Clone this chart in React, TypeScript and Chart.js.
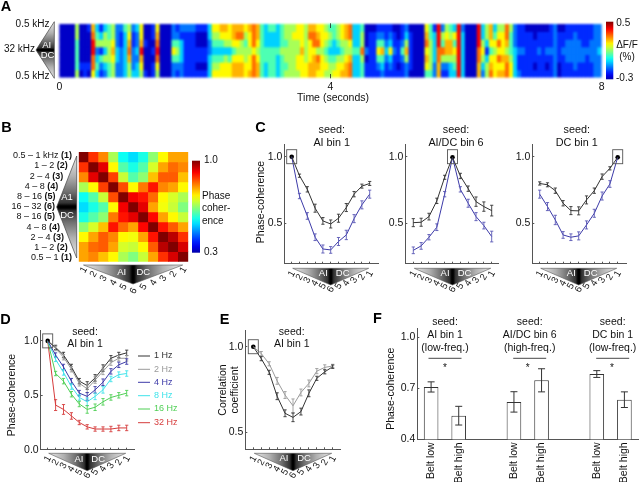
import React, { useEffect, useRef } from "react";
import { Chart, registerables } from "chart.js";

Chart.register(...registerables);

const FONT = '"Liberation Sans", Arial, sans-serif';
Chart.defaults.font.family = FONT;
Chart.defaults.color = "#111";

// ---------- data ----------
const binLabels = ["1", "2", "3", "4", "5", "6", "5", "4", "3", "2", "1"];

// Panel A: one string per time column, 7 rows top to bottom, levels 0..9
const activityColumns = [
  "0000000","0000000","0000000","0000000","5544445","0000010","0000011","1000010","7899886",
  "3452343","1351421","3553532","4455544","5567655","2223322","2112222","4333333","5678755",
  "2112223","3223233","6679765","0010001","0000000","1101011","6789865","0000000","0000000",
  "0000000","2246422","1245421","2133322","2111111","2111111","2111111","1001101","1001101",
  "1001101","3322333","6543456","6543456","7643466","7653566","6653466","7764677","7865677",
  "7855677","6545566","7665667","8886888","7765677","4444444","3334433","4334444","4334444",
  "3334333","4445444","5545545","5555555","5655555","6655665","6667666","5555566","7866677",
  "7886777","6785876",
  "6665666","5654565","4543455","4433456","5543566","6654567","7755677","8865788","3334333",
  "3334333","4558544","0002011","0111111","0111111","1246421","1247432","1123211","1236321",
  "0112111","0011101","1124211","2357522","0111110","0000000","0000000","0000000","6786764",
  "4455554","1333322","9998877","2548521","5677521","4577533","3646543","9999999","2333333",
  "0000000","0000000","0000000","9998877","3356532","5531355","7764678","3465666","5686867",
  "5666767","8875788","5444566","2223333","1112112","1112111","0111111","0111111","0011101",
  "0112111","0111111","0112101","1112111","2222222","0111100","0112111","1122211","1122211",
  "1222221","1122211","1112211","1112111","1122211","2222222","2223222",
];
const activityLevels = [0.07, 0.165, 0.24, 0.33, 0.45, 0.54, 0.63, 0.7, 0.77, 0.88];
const timeTicks = [0, 4, 8];

// Panel B
const coherenceMatrix = [
  [1.0, 0.88, 0.82, 0.68, 0.57, 0.54, 0.58, 0.66, 0.74, 0.8, 0.8],
  [0.88, 1.0, 0.93, 0.74, 0.62, 0.58, 0.62, 0.71, 0.8, 0.84, 0.82],
  [0.82, 0.93, 1.0, 0.87, 0.7, 0.62, 0.66, 0.78, 0.85, 0.85, 0.78],
  [0.68, 0.74, 0.87, 1.0, 0.86, 0.74, 0.83, 0.9, 0.82, 0.8, 0.74],
  [0.57, 0.62, 0.7, 0.86, 1.0, 0.92, 0.9, 0.84, 0.74, 0.71, 0.68],
  [0.54, 0.58, 0.62, 0.74, 0.92, 1.0, 0.93, 0.8, 0.73, 0.7, 0.65],
  [0.58, 0.62, 0.66, 0.83, 0.9, 0.93, 1.0, 0.91, 0.8, 0.74, 0.7],
  [0.66, 0.71, 0.78, 0.9, 0.84, 0.8, 0.91, 1.0, 0.9, 0.85, 0.8],
  [0.74, 0.8, 0.85, 0.82, 0.74, 0.73, 0.8, 0.9, 1.0, 0.96, 0.88],
  [0.8, 0.84, 0.85, 0.8, 0.71, 0.7, 0.74, 0.85, 0.96, 1.0, 0.94],
  [0.8, 0.82, 0.78, 0.74, 0.68, 0.65, 0.7, 0.8, 0.88, 0.94, 1.0],
];
const freqBands: [string, string][] = [
  ["0.5 – 1 kHz ", "(1)"], ["1 – 2 ", "(2)"], ["2 – 4 ", "(3)"], ["4 – 8 ", "(4)"],
  ["8 – 16 ", "(5)"], ["16 – 32 ", "(6)"], ["8 – 16 ", "(5)"], ["4 – 8 ", "(4)"],
  ["2 – 4 ", "(3)"], ["1 – 2 ", "(2)"], ["0.5 – 1 ", "(1)"],
];
const freqBandRightEdge = [72, 67.7, 63.3, 58.3, 55.5, 55, 55, 60, 64, 67.7, 72];

// Panel C
const c1Black = [1.0, 0.858, 0.756, 0.615, 0.52, 0.497, 0.54, 0.62, 0.72, 0.78, 0.8];
const c1BlackErr = [0, 0.012, 0.02, 0.03, 0.025, 0.03, 0.03, 0.03, 0.02, 0.015, 0.015];
const c1Blue = [1.0, 0.706, 0.557, 0.398, 0.31, 0.303, 0.366, 0.415, 0.537, 0.64, 0.72];
const c1BlueErr = [0, 0.02, 0.025, 0.025, 0.03, 0.025, 0.03, 0.035, 0.03, 0.03, 0.03];
const c2Black = [0.507, 0.51, 0.552, 0.67, 0.846, 0.995, 0.856, 0.761, 0.664, 0.627, 0.597];
const c2BlackErr = [0.03, 0.03, 0.025, 0.02, 0.015, 0, 0.02, 0.02, 0.035, 0.035, 0.04];
const c2Blue = [0.3, 0.333, 0.398, 0.473, 0.72, 0.995, 0.756, 0.652, 0.552, 0.485, 0.403];
const c2BlueErr = [0.025, 0.025, 0.02, 0.025, 0.02, 0, 0.02, 0.03, 0.03, 0.025, 0.04];
const c3Black = [0.8, 0.79, 0.746, 0.652, 0.597, 0.595, 0.677, 0.746, 0.851, 0.913, 0.995];
const c3BlackErr = [0.012, 0.015, 0.02, 0.02, 0.03, 0.03, 0.03, 0.02, 0.02, 0.012, 0];
const c3Blue = [0.72, 0.627, 0.527, 0.415, 0.398, 0.408, 0.49, 0.577, 0.706, 0.796, 0.995];
const c3BlueErr = [0.03, 0.03, 0.035, 0.025, 0.025, 0.03, 0.03, 0.03, 0.03, 0.025, 0];

// Panel D
const d1Hz = [1.0, 0.94, 0.87, 0.76, 0.63, 0.59, 0.66, 0.75, 0.84, 0.87, 0.89];
const d2Hz = [1.0, 0.93, 0.85, 0.74, 0.61, 0.56, 0.64, 0.72, 0.8, 0.84, 0.84];
const d4Hz = [1.0, 0.87, 0.76, 0.63, 0.52, 0.49, 0.55, 0.62, 0.72, 0.78, 0.81];
const d8Hz = [1.0, 0.83, 0.71, 0.58, 0.48, 0.44, 0.49, 0.55, 0.65, 0.69, 0.7];
const d16Hz = [1.0, 0.7, 0.63, 0.51, 0.42, 0.37, 0.39, 0.44, 0.48, 0.5, 0.52];
const d32Hz = [1.0, 0.41, 0.37, 0.31, 0.25, 0.21, 0.19, 0.19, 0.19, 0.2, 0.2];
const dErrSmall = [0, 0.02, 0.025, 0.025, 0.025, 0.035, 0.03, 0.03, 0.025, 0.025, 0.025];
const dErrLarge = [0, 0.05, 0.045, 0.03, 0.02, 0.02, 0.02, 0.02, 0.025, 0.025, 0.025];
const dLegend = ["1 Hz", "2 Hz", "4 Hz", "8 Hz", "16 Hz", "32 Hz"];

// Panel E
const eBlack = [1.0, 0.93, 0.85, 0.71, 0.61, 0.586, 0.62, 0.727, 0.815, 0.853, 0.883];
const eBlackErr = [0, 0.012, 0.012, 0.02, 0.02, 0.025, 0.02, 0.02, 0.012, 0.012, 0.01];
const eGray = [1.0, 0.96, 0.9, 0.8, 0.717, 0.654, 0.732, 0.785, 0.857, 0.879, 0.887];
const eGrayErr = [0, 0.012, 0.012, 0.02, 0.02, 0.04, 0.02, 0.02, 0.015, 0.015, 0.01];

// Panel F
const beltLabels = ["Belt low", "Belt high", "", "Belt low", "Belt high", "", "Belt low", "Belt high"];
const beltValues = [0.708, 0.539, null, 0.62, 0.747, null, 0.784, 0.633];
const beltErrors = [0.03, 0.055, 0, 0.06, 0.068, 0, 0.02, 0.046];

// ---------- colours ----------
const INK = "#111";
const AXIS = "#555";
const BLACK = "#333";
const BLUE = "#3c3aa8";
const GRAY = "#9a9a9a";
const CYAN = "#3fe3ea";
const GREEN = "#4fcf55";
const RED = "#d63c3c";

function clamp(v: number) {
  return Math.max(0, Math.min(1, v));
}
function jet(t: number) {
  const r = clamp(1.5 - Math.abs(4 * t - 3));
  const g = clamp(1.5 - Math.abs(4 * t - 2));
  const b = clamp(1.5 - Math.abs(4 * t - 1));
  return `rgb(${Math.round(r * 255)},${Math.round(g * 255)},${Math.round(b * 255)})`;
}

// ---------- drawing helpers ----------
type TextOpts = { align?: CanvasTextAlign; size?: number; color?: string; bold?: boolean; rot?: number };
function text(ctx: CanvasRenderingContext2D, s: string, x: number, y: number, o: TextOpts = {}) {
  ctx.save();
  ctx.translate(x, y);
  if (o.rot) ctx.rotate((o.rot * Math.PI) / 180);
  ctx.font = `${o.bold ? "bold " : ""}${o.size ?? 10}px ${FONT}`;
  ctx.fillStyle = o.color ?? INK;
  ctx.textAlign = o.align ?? "center";
  ctx.textBaseline = "middle";
  ctx.fillText(s, 0, 0);
  ctx.restore();
}
function wedgeGradient(g: CanvasGradient) {
  g.addColorStop(0, "#e8e8e8");
  g.addColorStop(0.2, "#b0b0b0");
  g.addColorStop(0.35, "#707070");
  g.addColorStop(0.46, "#333");
  g.addColorStop(0.49, "#000");
  g.addColorStop(0.51, "#000");
  g.addColorStop(0.54, "#333");
  g.addColorStop(0.65, "#707070");
  g.addColorStop(0.8, "#b0b0b0");
  g.addColorStop(1, "#e8e8e8");
}
function triangleDown(ctx: CanvasRenderingContext2D, xL: number, xR: number, yBase: number, yApex: number) {
  ctx.save();
  const g = ctx.createLinearGradient(xL, 0, xR, 0);
  wedgeGradient(g);
  ctx.beginPath();
  ctx.moveTo(xL, yBase);
  ctx.lineTo(xR, yBase);
  ctx.lineTo((xL + xR) / 2, yApex);
  ctx.closePath();
  ctx.fillStyle = g;
  ctx.fill();
  ctx.strokeStyle = "#555";
  ctx.lineWidth = 0.6;
  ctx.stroke();
  ctx.restore();
}
function triangleLeft(ctx: CanvasRenderingContext2D, xApex: number, xBase: number, yT: number, yB: number) {
  ctx.save();
  const g = ctx.createLinearGradient(0, yT, 0, yB);
  wedgeGradient(g);
  ctx.beginPath();
  ctx.moveTo(xBase, yT);
  ctx.lineTo(xBase, yB);
  ctx.lineTo(xApex, (yT + yB) / 2);
  ctx.closePath();
  ctx.fillStyle = g;
  ctx.fill();
  ctx.strokeStyle = "#444";
  ctx.lineWidth = 0.7;
  ctx.stroke();
  ctx.restore();
}
function colourBar(ctx: CanvasRenderingContext2D, x: number, y: number, w: number, h: number) {
  const g = ctx.createLinearGradient(0, y + h, 0, y);
  for (let i = 0; i <= 16; i++) g.addColorStop(i / 16, jet(0.04 + (0.96 * i) / 16));
  ctx.fillStyle = g;
  ctx.fillRect(x, y, w, h);
}

// whiskers for any dataset that carries an `errs` list
const errorBarPlugin = {
  id: "errorBars",
  afterDatasetsDraw(chart: any) {
    const ctx = chart.ctx;
    chart.data.datasets.forEach((ds: any, di: number) => {
      if (!ds.errs) return;
      const meta = chart.getDatasetMeta(di);
      ctx.save();
      ctx.strokeStyle = ds.errColor ?? ds.borderColor;
      ctx.lineWidth = ds.errWidth ?? 0.9;
      const cap = ds.errCap ?? 1.6;
      meta.data.forEach((el: any, i: number) => {
        const err = ds.errs[i];
        if (!err) return;
        const v = meta.controller.getParsed(i).y;
        const y0 = chart.scales.y.getPixelForValue(v - err);
        const y1 = chart.scales.y.getPixelForValue(v + err);
        ctx.beginPath();
        ctx.moveTo(el.x, y0);
        ctx.lineTo(el.x, y1);
        ctx.moveTo(el.x - cap, y0);
        ctx.lineTo(el.x + cap, y0);
        ctx.moveTo(el.x - cap, y1);
        ctx.lineTo(el.x + cap, y1);
        ctx.stroke();
      });
      ctx.restore();
    });
  },
};
Chart.register(errorBarPlugin);

// ---------- axis + frame helpers ----------
const AXIS_W = 20;
function framePadding(L: number, T: number, R: number, B: number, axisH: number, axisW = AXIS_W) {
  return { left: L - axisW, top: T, right: 640 - R, bottom: 482 - B - axisH };
}
function valueAxis(min: number, max: number, ticks: number[]) {
  return {
    type: "linear",
    min,
    max,
    afterFit: (s: any) => (s.width = AXIS_W),
    afterBuildTicks: (s: any) => (s.ticks = ticks.map((value) => ({ value }))),
    border: { color: AXIS, width: 1 },
    grid: { drawOnChartArea: false, drawTicks: true, tickLength: -2, color: AXIS },
    ticks: { padding: 4, font: { size: 10.5 }, color: INK, callback: (v: any) => Number(v).toFixed(1) },
  };
}

type Series = { data: number[]; errs: number[]; color: string; errColor?: string };
type LinePanel = {
  L: number; T: number; R: number; B: number; x0: number; x1: number;
  yMin: number; yMax: number; yTicks: number[]; seed: number; series: Series[];
  seedValue: number; apexY: number; baseY: number; digitStart: number; digitStep: number;
  aiDx: number; dcDx: number; labelY: number; extra: (ctx: CanvasRenderingContext2D, c: any) => void;
};
function lineConfig(p: LinePanel) {
  const step = (p.x1 - p.x0) / 10;
  const xIdx = binLabels.map((_, i) => i);
  return {
    type: "line",
    data: {
      datasets: [
        ...p.series.map((s) => ({
          data: s.data.map((y, i) => ({ x: xIdx[i], y })),
          errs: s.errs,
          errColor: s.errColor ?? s.color,
          borderColor: s.color,
          borderWidth: 1,
          pointRadius: 0,
          tension: 0,
          clip: false,
        })),
        {
          data: [{ x: p.seed, y: p.seedValue }],
          showLine: false,
          pointRadius: 2.3,
          pointBackgroundColor: "#000",
          pointBorderWidth: 0,
        },
      ],
    },
    options: {
      animation: false,
      responsive: false,
      layout: { padding: framePadding(p.L, p.T, p.R, p.B, 3) },
      plugins: { legend: { display: false }, tooltip: { enabled: false } },
      scales: {
        x: {
          type: "linear",
          min: -(p.x0 - p.L) / step,
          max: 10 + (p.R - p.x1) / step,
          afterFit: (s: any) => (s.height = 3),
          afterBuildTicks: (s: any) => (s.ticks = xIdx.map((value) => ({ value }))),
          border: { color: AXIS, width: 1 },
          grid: { drawOnChartArea: false, drawTicks: true, tickLength: -2, color: AXIS },
          ticks: { display: false },
        },
        y: valueAxis(p.yMin, p.yMax, p.yTicks),
      },
    },
    plugins: [
      {
        id: "decor",
        afterDraw(chart: any) {
          const ctx = chart.ctx;
          const sx = chart.scales.x;
          const sy = chart.scales.y;
          // seed frame
          ctx.save();
          ctx.strokeStyle = "#555";
          ctx.lineWidth = 0.9;
          ctx.strokeRect(sx.getPixelForValue(p.seed) - 5, sy.getPixelForValue(1) - 7, 10, 14);
          ctx.restore();
          // wedge and bin labels
          const xa = sx.getPixelForValue(0);
          const xb = sx.getPixelForValue(10);
          const xc = sx.getPixelForValue(5);
          triangleDown(ctx, xa + 1, xb - 1, p.baseY, p.apexY);
          text(ctx, "AI", xc + p.aiDx, p.labelY, { color: "#fff", size: 9.5 });
          text(ctx, "DC", xc + p.dcDx, p.labelY, { color: "#fff", size: 9.5 });
          binLabels.forEach((lab, i) => {
            const k = Math.min(i, 10 - i);
            text(ctx, lab, sx.getPixelForValue(i), p.digitStart + p.digitStep * k, { size: 9.5, rot: -60 });
          });
          p.extra(ctx, chart);
        },
      },
    ],
  };
}

function heatConfig(cells: string[][], L: number, T: number, R: number, B: number, extra?: (ctx: any, c: any) => void) {
  const rows = cells[0].map((_, k) => k);
  return {
    type: "bar",
    data: {
      labels: cells.map((_, i) => String(i)),
      datasets: rows.map((k) => ({
        data: cells.map(() => [k, k + 1]),
        backgroundColor: cells.map((c) => c[k]),
        borderWidth: 0,
        barPercentage: 1,
        categoryPercentage: 1,
        grouped: false,
      })),
    },
    options: {
      animation: false,
      responsive: false,
      layout: { padding: framePadding(L, T, R, B, 0, 0) },
      plugins: { legend: { display: false }, tooltip: { enabled: false } },
      scales: {
        x: { display: false, grid: { display: false }, stacked: false },
        y: { display: false, reverse: true, min: 0, max: rows.length, grid: { display: false } },
      },
    },
    plugins: extra ? [{ id: "heatDecor", afterDraw: (c: any) => extra(c.ctx, c) }] : [],
  };
}

// ---------- panels ----------
function panelAHeat() {
  const cells = activityColumns.map((col) => col.split("").map((d) => jet(activityLevels[Number(d)])));
  return heatConfig(cells, 59.3, 24, 601.7, 77.6);
}
function panelAAxes() {
  return {
    type: "scatter",
    data: { datasets: [] },
    options: {
      animation: false,
      responsive: false,
      layout: { padding: framePadding(59.3, 23.3, 601.7, 78.3, 16, 0) },
      plugins: { legend: { display: false }, tooltip: { enabled: false } },
      scales: {
        x: {
          type: "linear",
          min: 0,
          max: 8,
          afterFit: (s: any) => (s.height = 16),
          afterBuildTicks: (s: any) => (s.ticks = timeTicks.map((value) => ({ value }))),
          border: { display: false },
          grid: { display: false, drawTicks: false },
          ticks: { padding: 3, font: { size: 10.5 }, color: INK, minRotation: 0, maxRotation: 0, callback: (v: any) => String(v) },
        },
        y: { display: false, min: 0, max: 1 },
      },
    },
    plugins: [
      {
        id: "aDecor",
        afterDraw(chart: any) {
          const ctx = chart.ctx;
          const x4 = chart.scales.x.getPixelForValue(4);
          ctx.save();
          ctx.strokeStyle = "#222";
          ctx.lineWidth = 0.8;
          ctx.beginPath();
          ctx.moveTo(x4, 23.3);
          ctx.lineTo(x4, 28);
          ctx.moveTo(x4, 74);
          ctx.lineTo(x4, 78.3);
          ctx.stroke();
          ctx.restore();
          text(ctx, "A", 6, 7, { bold: true, size: 14.5, color: "#000" });
          text(ctx, "Time (seconds)", 333, 98, { size: 10.5 });
          text(ctx, "0.5 kHz", 49.5, 24, { align: "right" });
          text(ctx, "32 kHz", 35, 49.7, { align: "right" });
          text(ctx, "0.5 kHz", 49.5, 76, { align: "right" });
          triangleLeft(ctx, 36, 54.3, 21.7, 78.3);
          text(ctx, "AI", 46.7, 45, { color: "#fff", size: 9.5 });
          text(ctx, "DC", 47.5, 55.7, { color: "#fff", size: 9.5 });
          colourBar(ctx, 606, 21.7, 7.3, 57.6);
          text(ctx, "0.5", 616.3, 23.3, { align: "left", size: 10 });
          text(ctx, "ΔF/F", 627, 45, { size: 10 });
          text(ctx, "(%)", 627, 57, { size: 10 });
          text(ctx, "-0.3", 616, 78.3, { align: "left", size: 10 });
        },
      },
    ],
  };
}
function panelB() {
  // cells[column][row]
  const cells = coherenceMatrix[0].map((_, c) => coherenceMatrix.map((row) => jet((row[c] - 0.3) / 0.7)));
  return heatConfig(cells, 78.7, 152, 188.3, 261.7, (ctx, chart) => {
    const sx = chart.scales.x;
    text(ctx, "B", 6.5, 128, { bold: true, size: 14.5, color: "#000" });
    freqBands.forEach(([plain, bin], i) => {
      const y = 155.7 + 10.2 * i;
      const right = freqBandRightEdge[i];
      ctx.save();
      ctx.font = `bold 9px ${FONT}`;
      const w = ctx.measureText(bin).width;
      ctx.restore();
      text(ctx, bin, right, y, { align: "right", size: 9, bold: true });
      text(ctx, plain, right - w, y, { align: "right", size: 9 });
    });
    triangleLeft(ctx, 56.7, 76.7, 156, 258);
    text(ctx, "A1", 67, 197.7, { color: "#fff", size: 9.5 });
    text(ctx, "DC", 67, 215, { color: "#fff", size: 9.5 });
    colourBar(ctx, 192, 160.7, 8, 92);
    text(ctx, "1.0", 204, 160.7, { align: "left" });
    text(ctx, "0.3", 204, 252.7, { align: "left" });
    text(ctx, "Phase", 202, 196, { align: "left" });
    text(ctx, "coher-", 202, 208.3, { align: "left" });
    text(ctx, "ence", 202, 221, { align: "left" });
    triangleDown(ctx, 83.5, 182.7, 265, 284);
    text(ctx, "AI", 121.7, 272.3, { color: "#fff", size: 9.5 });
    text(ctx, "DC", 143.3, 272.3, { color: "#fff", size: 9.5 });
    binLabels.forEach((lab, i) => {
      const k = Math.min(i, 10 - i);
      text(ctx, lab, sx.getPixelForValue(i), 270 + 4.2 * k, { size: 9.5, rot: -60 });
    });
  });
}

const C_Y = { T: 144, B: 263.7, yMin: 0.2, yMax: 1.095, yTicks: [0.5, 1.0], baseY: 268.3, apexY: 285, digitStart: 274, digitStep: 3.06, aiDx: -7.4, dcDx: 12, labelY: 273.3 };
function panelC1() {
  return lineConfig({
    ...C_Y, L: 284.3, R: 378, x0: 291.7, x1: 369.7, seed: 0, seedValue: 1.0,
    series: [
      { data: c1Black, errs: c1BlackErr, color: BLACK },
      { data: c1Blue, errs: c1BlueErr, color: BLUE, errColor: "#5a58b5" },
    ],
    extra: (ctx) => {
      text(ctx, "C", 260.5, 128, { bold: true, size: 14.5, color: "#000" });
      text(ctx, "Phase-coherence", 260.7, 202, { rot: -90, size: 10.5 });
      text(ctx, "seed:", 331.7, 130, { size: 10.8 });
      text(ctx, "AI bin 1", 331.7, 142.7, { size: 10.8 });
    },
  });
}
function panelC2() {
  return lineConfig({
    ...C_Y, L: 405.3, R: 498, x0: 413.3, x1: 491.7, seed: 5, seedValue: 0.995,
    series: [
      { data: c2Black, errs: c2BlackErr, color: BLACK },
      { data: c2Blue, errs: c2BlueErr, color: BLUE, errColor: "#5a58b5" },
    ],
    extra: (ctx) => {
      text(ctx, "seed:", 456, 130, { size: 10.8 });
      text(ctx, "AI/DC bin 6", 456, 142.7, { size: 10.8 });
    },
  });
}
function panelC3() {
  return lineConfig({
    ...C_Y, L: 532.3, R: 626, x0: 539.7, x1: 617.7, seed: 10, seedValue: 0.995,
    series: [
      { data: c3Black, errs: c3BlackErr, color: BLACK },
      { data: c3Blue, errs: c3BlueErr, color: BLUE, errColor: "#5a58b5" },
    ],
    extra: (ctx) => {
      text(ctx, "seed:", 576.7, 130, { size: 10.8 });
      text(ctx, "DC bin 1", 576.7, 142.7, { size: 10.8 });
    },
  });
}
function panelD() {
  const colours = [BLACK, GRAY, BLUE, CYAN, GREEN, RED];
  return lineConfig({
    L: 40.7, T: 330, R: 134.3, B: 449.7, x0: 47.7, x1: 126.7,
    yMin: 0, yMax: 1.1, yTicks: [0, 0.5, 1.0], seed: 0, seedValue: 1.0,
    baseY: 453.3, apexY: 470.7, digitStart: 459, digitStep: 3.3, aiDx: -8.3, dcDx: 11, labelY: 459,
    series: [
      { data: d1Hz, errs: dErrSmall, color: colours[0] },
      { data: d2Hz, errs: dErrSmall, color: colours[1] },
      { data: d4Hz, errs: dErrSmall, color: colours[2] },
      { data: d8Hz, errs: dErrSmall, color: colours[3] },
      { data: d16Hz, errs: dErrSmall, color: colours[4] },
      { data: d32Hz, errs: dErrLarge, color: colours[5] },
    ],
    extra: (ctx) => {
      text(ctx, "D", 5.5, 320, { bold: true, size: 14.5, color: "#000" });
      text(ctx, "Phase-coherence", 12, 395, { rot: -90, size: 10.5 });
      text(ctx, "seed:", 85, 332, { size: 10.5 });
      text(ctx, "AI bin 1", 85, 344, { size: 10.5 });
      const ys = [356, 369.3, 382.3, 395.7, 409, 422.7];
      dLegend.forEach((lab, i) => {
        ctx.save();
        ctx.strokeStyle = colours[i];
        ctx.lineWidth = 1;
        ctx.beginPath();
        ctx.moveTo(138, ys[i]);
        ctx.lineTo(150, ys[i]);
        ctx.stroke();
        ctx.restore();
        text(ctx, lab, 154, ys[i], { align: "left", size: 9, color: colours[i] });
      });
    },
  });
}
function panelE() {
  return lineConfig({
    L: 245.3, T: 330, R: 340, B: 449.3, x0: 253.3, x1: 332.7,
    yMin: 0.399, yMax: 1.098, yTicks: [0.5, 1.0], seed: 0, seedValue: 1.0,
    baseY: 453.3, apexY: 470.7, digitStart: 459, digitStep: 3.3, aiDx: -9, dcDx: 11, labelY: 458.5,
    series: [
      { data: eGray, errs: eGrayErr, color: GRAY },
      { data: eBlack, errs: eBlackErr, color: BLACK },
    ],
    extra: (ctx) => {
      text(ctx, "E", 224.5, 320, { bold: true, size: 14.5, color: "#000" });
      text(ctx, "Correlation", 222.7, 390, { rot: -90, size: 10.5 });
      text(ctx, "coefficient", 235, 390, { rot: -90, size: 10.5 });
      text(ctx, "seed:", 291.7, 332, { size: 10.5 });
      text(ctx, "AI bin 1", 291.7, 344, { size: 10.5 });
    },
  });
}
function panelF() {
  const groups: [number, number, string, string][] = [
    [445, 445, "AI bin 1", "(low-freq.)"],
    [529.7, 527.7, "AI/DC bin 6", "(high-freq.)"],
    [612.7, 612, "DC bin 1", "(low-freq.)"],
  ];
  return {
    type: "bar",
    data: {
      labels: beltLabels,
      datasets: [
        {
          data: beltValues,
          errs: beltErrors,
          errColor: "#333",
          errWidth: 1,
          errCap: 3.5,
          backgroundColor: "#fff",
          borderColor: "#333",
          borderWidth: 1,
          barPercentage: 0.53,
          categoryPercentage: 1,
        },
      ],
    },
    options: {
      animation: false,
      responsive: false,
      layout: { padding: framePadding(417.3, 328.3, 640, 439.3, 42.7) },
      plugins: { legend: { display: false }, tooltip: { enabled: false } },
      scales: {
        x: {
          type: "category",
          afterFit: (s: any) => (s.height = 42.7),
          border: { color: AXIS, width: 1 },
          grid: { display: false, drawTicks: false },
          ticks: { autoSkip: false, minRotation: 90, maxRotation: 90, padding: 3, font: { size: 10.5 }, color: INK },
        },
        y: valueAxis(0.4, 1.053, [0.4, 0.7, 1.0]),
      },
    },
    plugins: [
      {
        id: "fDecor",
        afterDraw(chart: any) {
          const ctx = chart.ctx;
          text(ctx, "F", 377.5, 319, { bold: true, size: 14.5, color: "#000" });
          text(ctx, "Phase-coherence", 390.7, 388.7, { rot: -90, size: 10.5 });
          groups.forEach(([cx, star, a, b]) => {
            text(ctx, "seed:", cx, 322, { size: 10.5 });
            text(ctx, a, cx, 335, { size: 10.5 });
            text(ctx, b, cx, 347.7, { size: 10.5 });
            ctx.save();
            ctx.strokeStyle = "#333";
            ctx.lineWidth = 0.9;
            ctx.beginPath();
            ctx.moveTo(cx - 16.5, 358.3);
            ctx.lineTo(cx + 16.5, 358.3);
            ctx.stroke();
            ctx.restore();
            text(ctx, "*", star, 368.5, { size: 10 });
          });
        },
      },
    ],
  };
}

const canvasStyle: React.CSSProperties = { position: "absolute", left: 0, top: 0, width: 640, height: 482 };

function Panel({ make, blur }: { make: () => any; blur?: number }) {
  const ref = useRef<HTMLCanvasElement>(null);
  useEffect(() => {
    const chart = new Chart(ref.current as HTMLCanvasElement, make());
    return () => chart.destroy();
  }, []);
  return <canvas ref={ref} width={640} height={482} style={{ ...canvasStyle, filter: blur ? `blur(${blur}px)` : undefined }} />;
}

export default function App() {
  return (
    <div style={{ position: "fixed", left: 0, top: 0, width: 640, height: 482, background: "#fff", overflow: "hidden", filter: "blur(0.25px)" }}>
      <Panel make={panelAHeat} blur={1.1} />
      <Panel make={panelAAxes} />
      <Panel make={panelB} />
      <Panel make={panelC1} />
      <Panel make={panelC2} />
      <Panel make={panelC3} />
      <Panel make={panelD} />
      <Panel make={panelE} />
      <Panel make={panelF} />
    </div>
  );
}
